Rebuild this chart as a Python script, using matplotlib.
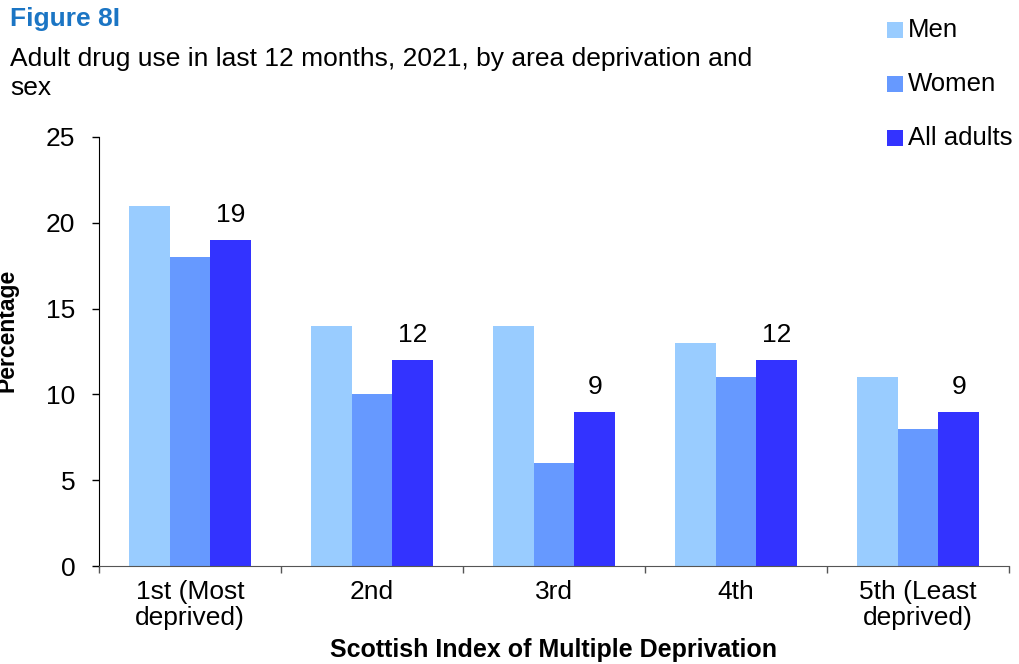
import matplotlib
matplotlib.use("Agg")
import matplotlib.pyplot as plt
import numpy as np
from matplotlib.patches import Rectangle

plt.rcParams['font.family'] = ['Liberation Sans', 'DejaVu Sans']

categories = ["1st (Most\ndeprived)", "2nd", "3rd", "4th", "5th (Least\ndeprived)"]
series_names = ["Men", "Women", "All adults"]
men = [21, 14, 14, 13, 11]
women = [18, 10, 6, 11, 8]
all_adults = [19, 12, 9, 12, 9]
colors = ["#99CCFF", "#6699FF", "#3333FF"]
yticks = [0, 5, 10, 15, 20, 25]

W, H = 1019, 664
FS = 19
fig = plt.figure(figsize=(W / 100, H / 100), dpi=100)
ax = fig.add_axes([99 / W, 1 - 566 / H, 910 / W, 429 / H])

x = np.arange(len(categories))
bw = 0.225
for i, (vals, col) in enumerate(zip([men, women, all_adults], colors)):
    ax.bar(x + (i - 1) * bw, vals, width=bw, color=col, edgecolor="none", zorder=2)

for xi, v in zip(x, all_adults):
    ax.text(xi + bw, v + 1.05, f"{v}", ha="center", va="baseline", fontsize=FS)

ax.set_xlim(-0.5, len(categories) - 0.5)
ax.set_ylim(0, 25)
ax.set_yticks(yticks)
ax.set_yticklabels([str(t) for t in yticks], fontsize=FS)
ax.tick_params(axis="y", direction="out", length=5, width=1, pad=12)

ax.set_xticks(x)
ax.set_xticklabels(categories, fontsize=FS, linespacing=1.1)
ax.tick_params(axis="x", length=0, pad=10)
ax.set_xticks(np.arange(len(categories) + 1) - 0.5, minor=True)
ax.tick_params(axis="x", which="minor", direction="out", length=5, width=1, color="#555555")

for s in ["top", "right"]:
    ax.spines[s].set_visible(False)
ax.spines["left"].set_color("black")
ax.spines["bottom"].set_color("#555555")

ax.set_xlabel("Scottish Index of Multiple Deprivation", fontsize=18, fontweight="bold", va="center")
ax.xaxis.set_label_coords(0.5, (566 - 650) / 429)
fig.text(7 / W, 1 - 330 / H, "Percentage", rotation=90, fontsize=16.5, fontweight="bold",
         ha="center", va="center")

fig.text(10 / W, 1 - 19 / H, "Figure 8I", fontsize=FS, fontweight="bold", color="#1B75C4",
         ha="left", va="center")
fig.text(10 / W, 1 - 59 / H, "Adult drug use in last 12 months, 2021, by area deprivation and",
         fontsize=FS, ha="left", va="center")
fig.text(10 / W, 1 - 88 / H, "sex", fontsize=FS, ha="left", va="center")

# legend entries
for i, (name, col) in enumerate(zip(series_names, colors)):
    yc = 1 - (30 + 54 * i) / H
    fig.patches.append(Rectangle((887 / W, yc - 8 / H), 16 / W, 16 / H, transform=fig.transFigure,
                                 facecolor=col, edgecolor="none"))
    fig.text(908 / W, yc, name, fontsize=18.5, ha="left", va="center")

fig.savefig("out.png", dpi=100)
